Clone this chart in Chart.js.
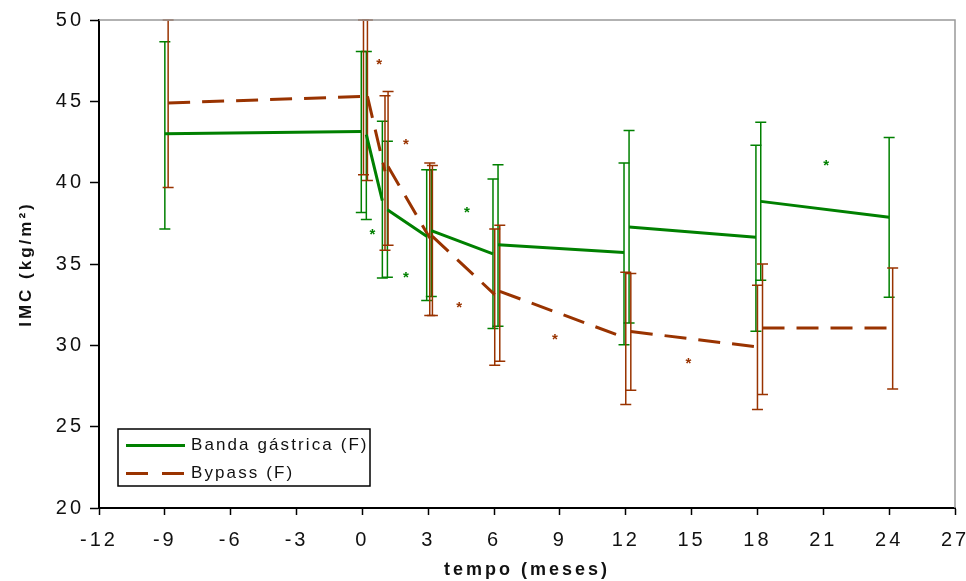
<!DOCTYPE html>
<html>
<head>
<meta charset="utf-8">
<script src="https://cdn.jsdelivr.net/npm/chart.js@4.4.1/dist/chart.umd.min.js"></script>
<style>
  body { margin: 0; background: #fff; }
  #wrap { width: 966px; height: 581px; position: relative; }
</style>
</head>
<body>
<div id="wrap"><canvas id="imcChart"></canvas></div>
<script>
// each pair of values is one segment (start, end) of paired measurements
const bandaX    = [-9, -0.05, 0.18, 0.91, 1.14, 2.93, 3.14, 5.95, 6.18, 11.92, 12.15, 17.93, 18.15, 24.0];
const bandaMean = [43.0, 43.15, 42.95, 38.9, 38.34, 36.7, 37.05, 35.62, 36.19, 35.7, 37.27, 36.64, 38.85, 37.87];
const bandaLow  = [37.15, 38.17, 37.73, 34.14, 34.18, 32.75, 33.0, 31.03, 31.17, 30.04, 31.38, 30.86, 34.0, 32.95];
const bandaHigh = [48.67, 48.07, 48.07, 43.77, 42.54, 40.8, 40.8, 40.23, 41.1, 41.21, 43.2, 42.3, 43.71, 42.78];

const bypassX    = [-8.85, 0.05, 0.23, 1.03, 1.17, 3.07, 3.19, 6.03, 6.26, 12.0, 12.23, 18.0, 18.23, 24.16];
const bypassMean = [44.9, 45.3, 45.3, 40.7, 41.0, 36.6, 36.7, 33.12, 33.32, 30.45, 30.85, 29.9, 31.07, 31.07];
const bypassLow  = [39.71, 40.49, 40.14, 35.84, 36.15, 31.84, 31.84, 28.77, 29.02, 26.36, 27.24, 26.05, 26.97, 27.32];
const bypassHigh = [50.0, 50.0, 50.0, 45.35, 45.61, 41.21, 41.06, 37.15, 37.38, 34.49, 34.41, 33.69, 35.0, 34.76];

// significance marks (*)
const bandaStarX  = [0.53, 2.05, 4.83, 21.2];
const bandaStarY  = [37.0, 34.41, 38.4, 41.27];
const bypassStarX = [0.83, 2.05, 4.48, 8.84, 14.92];
const bypassStarY = [47.46, 42.54, 32.55, 30.6, 29.12];

const seriesNames = ["Banda gástrica (F)", "Bypass (F)"];
const GREEN = "#008000";
const BROWN = "#993300";

function toPoints(xs, ys) {
    const pts = [];
    for (let i = 0; i < xs.length; i += 2) {
        if (i > 0) pts.push({ x: (xs[i - 1] + xs[i]) / 2, y: null }); // break between segments
        pts.push({ x: xs[i], y: ys[i] }, { x: xs[i + 1], y: ys[i + 1] });
    }
    return pts;
}

function drawBars(ctx, xs, lo, hi, color, sx, sy) {
    ctx.save();
    ctx.strokeStyle = color;
    ctx.lineWidth = 1.5;
    xs.forEach((x, i) => {
        const px = sx.getPixelForValue(x);
        const top = sy.getPixelForValue(hi[i]);
        const bot = sy.getPixelForValue(lo[i]);
        ctx.beginPath();
        ctx.moveTo(px, top); ctx.lineTo(px, bot);
        ctx.moveTo(px - 5.5, top); ctx.lineTo(px + 5.5, top);
        ctx.moveTo(px - 5.5, bot); ctx.lineTo(px + 5.5, bot);
        ctx.stroke();
    });
    ctx.restore();
}

function drawStars(ctx, xs, ys, color, sx, sy) {
    ctx.save();
    ctx.fillStyle = color;
    ctx.font = "bold 15px 'Liberation Sans', Arial, sans-serif";
    ctx.textAlign = "center";
    ctx.textBaseline = "alphabetic";
    xs.forEach((x, i) => {
        ctx.fillText("*", sx.getPixelForValue(x), sy.getPixelForValue(ys[i]) + 8);
    });
    ctx.restore();
}

const extras = {
    id: "extras",
    beforeUpdate(chart) { chart.ctx.letterSpacing = "3px"; },
    beforeDraw(chart) { chart.ctx.letterSpacing = "3px"; },
    beforeDatasetsDraw(chart) {
        const { ctx, scales: { x, y } } = chart;
        drawBars(ctx, bandaX, bandaLow, bandaHigh, GREEN, x, y);
        drawBars(ctx, bypassX, bypassLow, bypassHigh, BROWN, x, y);
    },
    afterDatasetsDraw(chart) {
        const { ctx, chartArea: a, scales: { x, y } } = chart;
        drawStars(ctx, bandaStarX, bandaStarY, GREEN, x, y);
        drawStars(ctx, bypassStarX, bypassStarY, BROWN, x, y);

        // grey frame on top and right
        ctx.save();
        ctx.strokeStyle = "#999";
        ctx.lineWidth = 1.5;
        ctx.beginPath();
        ctx.moveTo(a.left, a.top); ctx.lineTo(a.right, a.top); ctx.lineTo(a.right, a.bottom);
        ctx.stroke();
        ctx.restore();

        // legend box, bottom left inside the plot
        const lx = a.left + 19, ly = a.bottom - 79, lw = 252, lh = 57;
        ctx.save();
        ctx.fillStyle = "#fff";
        ctx.fillRect(lx, ly, lw, lh);
        ctx.strokeStyle = "#000";
        ctx.lineWidth = 1.5;
        ctx.strokeRect(lx, ly, lw, lh);
        ctx.font = "17px 'Liberation Sans', Arial, sans-serif";
        ctx.letterSpacing = "2.1px";
        ctx.textBaseline = "middle";
        ctx.fillStyle = "#111";
        const rows = [ly + 16.5, ly + 44.5];
        [GREEN, BROWN].forEach((c, i) => {
            ctx.strokeStyle = c;
            ctx.lineWidth = 3;
            ctx.setLineDash(i === 0 ? [] : [22, 14]);
            ctx.beginPath();
            ctx.moveTo(lx + 8, rows[i]); ctx.lineTo(lx + 67, rows[i]);
            ctx.stroke();
            ctx.fillText(seriesNames[i], lx + 73, rows[i]);
        });
        ctx.restore();
    }
};

const tickFont = { family: "'Liberation Sans', Arial, sans-serif", size: 20 };

new Chart(document.getElementById("imcChart"), {
    type: "line",
    data: {
        datasets: [
            {
                label: seriesNames[0],
                data: toPoints(bandaX, bandaMean),
                borderColor: GREEN,
                borderWidth: 3,
                pointRadius: 0,
                tension: 0,
                spanGaps: false
            },
            {
                label: seriesNames[1],
                data: toPoints(bypassX, bypassMean),
                borderColor: BROWN,
                borderWidth: 3,
                borderDash: [22, 12],
                pointRadius: 0,
                tension: 0,
                spanGaps: false
            }
        ]
    },
    options: {
        responsive: true,
        maintainAspectRatio: false,
        animation: false,
        layout: { padding: { left: 0, right: 11, top: 20, bottom: 0 } },
        plugins: { legend: { display: false }, tooltip: { enabled: false } },
        scales: {
            x: {
                type: "linear",
                min: -12,
                max: 27,
                ticks: { stepSize: 3, color: "#111", font: tickFont, padding: 13, maxRotation: 0 },
                grid: { drawOnChartArea: false, tickLength: 7, tickColor: "#000", tickWidth: 1.5 },
                border: { color: "#000", width: 2 },
                title: {
                    display: true,
                    text: "tempo (meses)",
                    color: "#111",
                    font: { family: "'Liberation Sans', Arial, sans-serif", size: 18, weight: "bold" },
                    padding: { top: 0, bottom: 0 }
                },
                afterFit(scale) {
                    scale.height = 73;
                    scale.paddingLeft = 0;
                    scale.paddingRight = 0;
                }
            },
            y: {
                min: 20,
                max: 50,
                ticks: { stepSize: 5, color: "#111", font: tickFont, padding: 6 },
                grid: { drawOnChartArea: false, tickLength: 9, tickColor: "#000", tickWidth: 1.5 },
                border: { color: "#000", width: 2 },
                title: {
                    display: true,
                    text: "IMC (kg/m²)",
                    color: "#111",
                    font: { family: "'Liberation Sans', Arial, sans-serif", size: 17, weight: "bold" },
                    padding: { top: 16, bottom: 0 }
                },
                afterFit(scale) {
                    scale.width = 99;
                    scale.paddingTop = 0;
                    scale.paddingBottom = 0;
                }
            }
        }
    },
    plugins: [extras]
});
</script>
</body>
</html>
